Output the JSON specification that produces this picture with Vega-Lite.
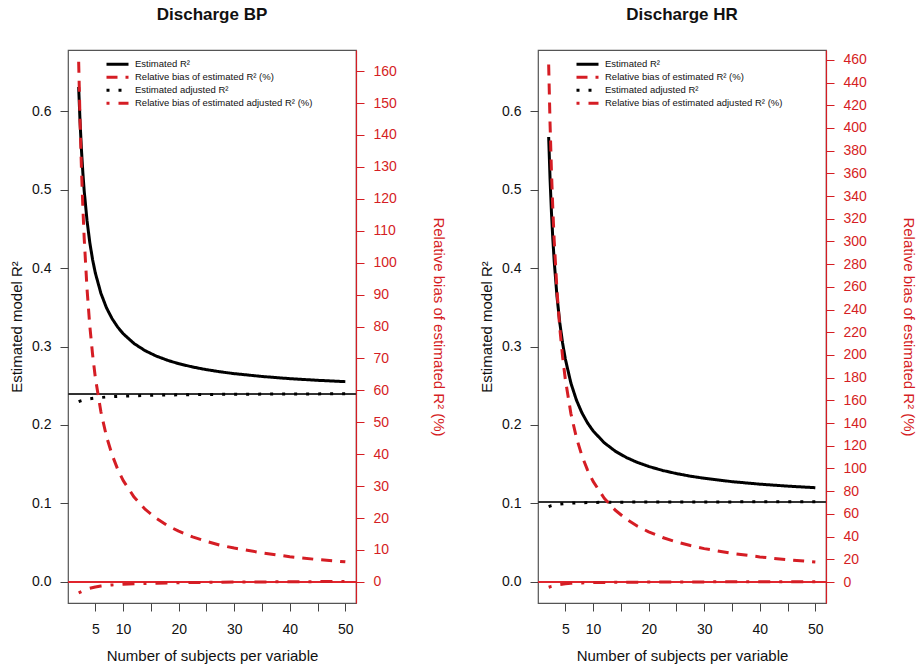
{
  "$schema": "https://vega.github.io/schema/vega-lite/v6.json",
  "background": "white",
  "padding": {"left": 8, "top": 5, "right": 2, "bottom": 2},
  "spacing": 32,
  "config": {
    "font": "Liberation Sans",
    "view": {"stroke": "#555", "strokeWidth": 1.2},
    "axis": {"grid": false, "labelFont": "Liberation Sans", "titleFont": "Liberation Sans", "labelFontSize": 14, "titleFontSize": 15, "titleFontWeight": "normal", "tickSize": 8, "tickCount": 100, "labelColor": "#111", "titleColor": "#111", "tickColor": "#444", "labelOverlap": false, "labelFlush": false},
    "legend": {"labelFont": "Liberation Sans"}
  },
  "datasets": {
    "bp": [
      {"m":2,"s":"r2","v":0.6309},{"m":2.25,"s":"r2","v":0.5863},{"m":2.5,"s":"r2","v":0.5509},{"m":2.75,"s":"r2","v":0.5221},{"m":3,"s":"r2","v":0.4981},{"m":3.5,"s":"r2","v":0.4607},{"m":4,"s":"r2","v":0.4327},{"m":4.5,"s":"r2","v":0.4110},{"m":5,"s":"r2","v":0.3937},{"m":6,"s":"r2","v":0.3679},{"m":7,"s":"r2","v":0.3494},{"m":8,"s":"r2","v":0.3357},{"m":9,"s":"r2","v":0.3250},{"m":10,"s":"r2","v":0.3164},{"m":12,"s":"r2","v":0.3036},{"m":14,"s":"r2","v":0.2945},{"m":16,"s":"r2","v":0.2877},{"m":18,"s":"r2","v":0.2824},{"m":20,"s":"r2","v":0.2781},{"m":22.5,"s":"r2","v":0.2739},{"m":25,"s":"r2","v":0.2705},{"m":27.5,"s":"r2","v":0.2677},{"m":30,"s":"r2","v":0.2654},{"m":35,"s":"r2","v":0.2618},{"m":40,"s":"r2","v":0.2590},{"m":45,"s":"r2","v":0.2569},{"m":50,"s":"r2","v":0.2552},
      {"m":2,"s":"bias","v":162.9},{"m":2.25,"s":"bias","v":144.3},{"m":2.5,"s":"bias","v":129.5},{"m":2.75,"s":"bias","v":117.5},{"m":3,"s":"bias","v":107.5},{"m":3.5,"s":"bias","v":91.9},{"m":4,"s":"bias","v":80.3},{"m":4.5,"s":"bias","v":71.3},{"m":5,"s":"bias","v":64.0},{"m":6,"s":"bias","v":53.3},{"m":7,"s":"bias","v":45.6},{"m":8,"s":"bias","v":39.9},{"m":9,"s":"bias","v":35.4},{"m":10,"s":"bias","v":31.8},{"m":12,"s":"bias","v":26.5},{"m":14,"s":"bias","v":22.7},{"m":16,"s":"bias","v":19.9},{"m":18,"s":"bias","v":17.6},{"m":20,"s":"bias","v":15.9},{"m":22.5,"s":"bias","v":14.1},{"m":25,"s":"bias","v":12.7},{"m":27.5,"s":"bias","v":11.5},{"m":30,"s":"bias","v":10.6},{"m":35,"s":"bias","v":9.1},{"m":40,"s":"bias","v":7.9},{"m":45,"s":"bias","v":7.0},{"m":50,"s":"bias","v":6.3},
      {"m":2,"s":"adj","v":0.2297},{"m":2.5,"s":"adj","v":0.2310},{"m":3,"s":"adj","v":0.2320},{"m":3.5,"s":"adj","v":0.2327},{"m":4,"s":"adj","v":0.2333},{"m":5,"s":"adj","v":0.2343},{"m":6,"s":"adj","v":0.2350},{"m":7,"s":"adj","v":0.2356},{"m":8,"s":"adj","v":0.2360},{"m":10,"s":"adj","v":0.2367},{"m":12,"s":"adj","v":0.2372},{"m":14,"s":"adj","v":0.2376},{"m":16,"s":"adj","v":0.2379},{"m":20,"s":"adj","v":0.2384},{"m":25,"s":"adj","v":0.2388},{"m":30,"s":"adj","v":0.2391},{"m":35,"s":"adj","v":0.2393},{"m":40,"s":"adj","v":0.2395},{"m":45,"s":"adj","v":0.2396},{"m":50,"s":"adj","v":0.2397},
      {"m":2,"s":"biasadj","v":-3.4},{"m":2.5,"s":"biasadj","v":-3.0},{"m":3,"s":"biasadj","v":-2.6},{"m":3.5,"s":"biasadj","v":-2.3},{"m":4,"s":"biasadj","v":-2.0},{"m":5,"s":"biasadj","v":-1.6},{"m":6,"s":"biasadj","v":-1.3},{"m":7,"s":"biasadj","v":-1.1},{"m":8,"s":"biasadj","v":-0.95},{"m":10,"s":"biasadj","v":-0.75},{"m":12,"s":"biasadj","v":-0.6},{"m":14,"s":"biasadj","v":-0.5},{"m":16,"s":"biasadj","v":-0.4},{"m":20,"s":"biasadj","v":-0.25},{"m":25,"s":"biasadj","v":-0.15},{"m":30,"s":"biasadj","v":-0.05},{"m":35,"s":"biasadj","v":0.0},{"m":40,"s":"biasadj","v":0.05},{"m":45,"s":"biasadj","v":0.1},{"m":50,"s":"biasadj","v":0.15}
    ],
    "hr": [
      {"m":2,"s":"r2","v":0.5670},{"m":2.25,"s":"r2","v":0.5137},{"m":2.5,"s":"r2","v":0.4714},{"m":2.75,"s":"r2","v":0.4369},{"m":3,"s":"r2","v":0.4084},{"m":3.5,"s":"r2","v":0.3637},{"m":4,"s":"r2","v":0.3304},{"m":4.5,"s":"r2","v":0.3047},{"m":5,"s":"r2","v":0.2841},{"m":6,"s":"r2","v":0.2534},{"m":7,"s":"r2","v":0.2316},{"m":8,"s":"r2","v":0.2152},{"m":9,"s":"r2","v":0.2025},{"m":10,"s":"r2","v":0.1924},{"m":12,"s":"r2","v":0.1773},{"m":14,"s":"r2","v":0.1665},{"m":16,"s":"r2","v":0.1584},{"m":18,"s":"r2","v":0.1521},{"m":20,"s":"r2","v":0.1471},{"m":22.5,"s":"r2","v":0.1420},{"m":25,"s":"r2","v":0.1380},{"m":27.5,"s":"r2","v":0.1347},{"m":30,"s":"r2","v":0.1320},{"m":35,"s":"r2","v":0.1277},{"m":40,"s":"r2","v":0.1245},{"m":45,"s":"r2","v":0.1220},{"m":50,"s":"r2","v":0.1200},
      {"m":2,"s":"bias","v":455.9},{"m":2.25,"s":"bias","v":403.7},{"m":2.5,"s":"bias","v":362.1},{"m":2.75,"s":"bias","v":328.4},{"m":3,"s":"bias","v":300.4},{"m":3.5,"s":"bias","v":256.6},{"m":4,"s":"bias","v":223.9},{"m":4.5,"s":"bias","v":198.7},{"m":5,"s":"bias","v":178.5},{"m":6,"s":"bias","v":148.4},{"m":7,"s":"bias","v":127.0},{"m":8,"s":"bias","v":111.0},{"m":9,"s":"bias","v":98.6},{"m":10,"s":"bias","v":88.6},{"m":12,"s":"bias","v":73.8},{"m":14,"s":"bias","v":63.2},{"m":16,"s":"bias","v":55.3},{"m":18,"s":"bias","v":49.1},{"m":20,"s":"bias","v":44.2},{"m":22.5,"s":"bias","v":39.2},{"m":25,"s":"bias","v":35.3},{"m":27.5,"s":"bias","v":32.1},{"m":30,"s":"bias","v":29.4},{"m":35,"s":"bias","v":25.2},{"m":40,"s":"bias","v":22.1},{"m":45,"s":"bias","v":19.6},{"m":50,"s":"bias","v":17.6},
      {"m":2,"s":"adj","v":0.0959},{"m":2.5,"s":"adj","v":0.0972},{"m":3,"s":"adj","v":0.0980},{"m":3.5,"s":"adj","v":0.0986},{"m":4,"s":"adj","v":0.0990},{"m":5,"s":"adj","v":0.0998},{"m":6,"s":"adj","v":0.1003},{"m":7,"s":"adj","v":0.1006},{"m":8,"s":"adj","v":0.1009},{"m":10,"s":"adj","v":0.1012},{"m":12,"s":"adj","v":0.1014},{"m":14,"s":"adj","v":0.1015},{"m":16,"s":"adj","v":0.1016},{"m":20,"s":"adj","v":0.1017},{"m":25,"s":"adj","v":0.1018},{"m":30,"s":"adj","v":0.1019},{"m":35,"s":"adj","v":0.1019},{"m":40,"s":"adj","v":0.1020},{"m":45,"s":"adj","v":0.1020},{"m":50,"s":"adj","v":0.1020},
      {"m":2,"s":"biasadj","v":-4.6},{"m":2.5,"s":"biasadj","v":-3.8},{"m":3,"s":"biasadj","v":-3.2},{"m":3.5,"s":"biasadj","v":-2.7},{"m":4,"s":"biasadj","v":-2.2},{"m":5,"s":"biasadj","v":-1.6},{"m":6,"s":"biasadj","v":-1.2},{"m":7,"s":"biasadj","v":-1.0},{"m":8,"s":"biasadj","v":-0.8},{"m":10,"s":"biasadj","v":-0.55},{"m":12,"s":"biasadj","v":-0.4},{"m":14,"s":"biasadj","v":-0.3},{"m":16,"s":"biasadj","v":-0.2},{"m":20,"s":"biasadj","v":-0.1},{"m":25,"s":"biasadj","v":0.0},{"m":30,"s":"biasadj","v":0.1},{"m":35,"s":"biasadj","v":0.15},{"m":40,"s":"biasadj","v":0.2},{"m":45,"s":"biasadj","v":0.25},{"m":50,"s":"biasadj","v":0.3}
    ]
  },
  "hconcat": [
    {
      "title": {"text": "Discharge BP", "fontSize": 17, "fontWeight": "bold", "offset": 26, "anchor": "middle", "color": "#111"},
      "width": 288, "height": 553,
      "data": {"name": "bp"},
      "layer": [
        {"layer": [
          {"mark": {"type": "rule", "color": "#333", "strokeWidth": 1.2}, "encoding": {"y": {"datum": 0.24, "type": "quantitative", "scale": {"domain": [-0.027, 0.678], "nice": false, "zero": false}}}},
          {"transform": [{"filter": {"field": "s", "oneOf": ["r2", "adj"]}}],
           "mark": {"type": "line", "strokeWidth": 3, "strokeCap": "butt", "strokeJoin": "round"},
           "encoding": {
             "x": {"field": "m", "type": "quantitative", "scale": {"domain": [0.08, 51.92], "nice": false, "zero": false},
                   "axis": {"title": "Number of subjects per variable", "values": [5,10,15,20,25,30,35,40,45,50], "tickCount": 100, "format": "d", "labelExpr": "(datum.value % 10 == 5 && datum.value != 5) ? '' : datum.label", "domain": false, "labelPadding": 11, "titlePadding": 12}},
             "y": {"field": "v", "type": "quantitative", "scale": {"domain": [-0.027, 0.678], "nice": false, "zero": false},
                   "axis": {"title": "Estimated model R²", "values": [0,0.1,0.2,0.3,0.4,0.5,0.6], "tickCount": 100, "format": ".1f", "domain": false, "labelPadding": 9, "titlePadding": 7}},
             "color": {"field": "s", "type": "nominal", "scale": {"domain": ["r2","bias","adj","biasadj"], "range": ["#000000","#d51d24","#000000","#d51d24"]},
                       "legend": {"title": null, "orient": "none", "legendX": 37, "legendY": 8, "symbolType": "stroke", "symbolSize": 484, "symbolStrokeWidth": 3, "labelFontSize": 9.5, "labelOffset": 5, "labelLimit": 400, "clipHeight": 12.3, "rowPadding": 0, "padding": 0, "labelColor": "#111", "labelExpr": "{'r2':'Estimated R²','bias':'Relative bias of estimated R² (%)','adj':'Estimated adjusted R²','biasadj':'Relative bias of estimated adjusted R² (%)'}[datum.label]"}},
             "strokeDash": {"field": "s", "type": "nominal", "scale": {"domain": ["r2","bias","adj","biasadj"], "range": [[1,0],[11,8],[3,9],[3,9,12,9]]},
                       "legend": {"title": null, "orient": "none", "legendX": 37, "legendY": 8, "symbolType": "stroke", "symbolSize": 484, "symbolStrokeWidth": 3, "labelFontSize": 9.5, "labelOffset": 5, "labelLimit": 400, "clipHeight": 12.3, "rowPadding": 0, "padding": 0, "labelColor": "#111", "labelExpr": "{'r2':'Estimated R²','bias':'Relative bias of estimated R² (%)','adj':'Estimated adjusted R²','biasadj':'Relative bias of estimated adjusted R² (%)'}[datum.label]"}}
           }}
        ]},
        {"layer": [
          {"mark": {"type": "rule", "color": "#e0262e", "strokeWidth": 1}, "encoding": {"y": {"datum": 0, "type": "quantitative", "scale": {"domain": [-6.6, 166.6], "nice": false, "zero": false}}}},
          {"transform": [{"filter": {"field": "s", "oneOf": ["bias", "biasadj"]}}],
           "mark": {"type": "line", "strokeWidth": 3, "strokeCap": "butt", "strokeJoin": "round"},
           "encoding": {
             "x": {"field": "m", "type": "quantitative", "scale": {"domain": [0.08, 51.92], "nice": false, "zero": false},
                   "axis": {"title": "Number of subjects per variable", "values": [5,10,15,20,25,30,35,40,45,50], "tickCount": 100, "format": "d", "labelExpr": "(datum.value % 10 == 5 && datum.value != 5) ? '' : datum.label", "domain": false, "labelPadding": 11, "titlePadding": 12}},
             "y": {"field": "v", "type": "quantitative", "scale": {"domain": [-6.6, 166.6], "nice": false, "zero": false},
                   "axis": {"orient": "right", "title": "Relative bias of estimated R² (%)", "values": [0,10,20,30,40,50,60,70,80,90,100,110,120,130,140,150,160], "tickCount": 100, "format": "d", "domain": true, "domainColor": "#d51d24", "domainWidth": 1.2, "tickColor": "#d51d24", "labelColor": "#d51d24", "titleColor": "#d51d24", "labelPadding": 9, "titlePadding": 34}},
             "color": {"field": "s", "type": "nominal", "scale": {"domain": ["r2","bias","adj","biasadj"], "range": ["#000000","#d51d24","#000000","#d51d24"]}},
             "strokeDash": {"field": "s", "type": "nominal", "scale": {"domain": ["r2","bias","adj","biasadj"], "range": [[1,0],[11,8],[3,9],[3,9,12,9]]}}
           }}
        ]}
      ],
      "resolve": {"scale": {"y": "independent"}}
    },
    {
      "title": {"text": "Discharge HR", "fontSize": 17, "fontWeight": "bold", "offset": 26, "anchor": "middle", "color": "#111"},
      "width": 288, "height": 553,
      "data": {"name": "hr"},
      "layer": [
        {"layer": [
          {"mark": {"type": "rule", "color": "#333", "strokeWidth": 1.2}, "encoding": {"y": {"datum": 0.102, "type": "quantitative", "scale": {"domain": [-0.027, 0.678], "nice": false, "zero": false}}}},
          {"transform": [{"filter": {"field": "s", "oneOf": ["r2", "adj"]}}],
           "mark": {"type": "line", "strokeWidth": 3, "strokeCap": "butt", "strokeJoin": "round"},
           "encoding": {
             "x": {"field": "m", "type": "quantitative", "scale": {"domain": [0.08, 51.92], "nice": false, "zero": false},
                   "axis": {"title": "Number of subjects per variable", "values": [5,10,15,20,25,30,35,40,45,50], "tickCount": 100, "format": "d", "labelExpr": "(datum.value % 10 == 5 && datum.value != 5) ? '' : datum.label", "domain": false, "labelPadding": 11, "titlePadding": 12}},
             "y": {"field": "v", "type": "quantitative", "scale": {"domain": [-0.027, 0.678], "nice": false, "zero": false},
                   "axis": {"title": "Estimated model R²", "values": [0,0.1,0.2,0.3,0.4,0.5,0.6], "tickCount": 100, "format": ".1f", "domain": false, "labelPadding": 9, "titlePadding": 7}},
             "color": {"field": "s", "type": "nominal", "scale": {"domain": ["r2","bias","adj","biasadj"], "range": ["#000000","#d51d24","#000000","#d51d24"]},
                       "legend": {"title": null, "orient": "none", "legendX": 37, "legendY": 8, "symbolType": "stroke", "symbolSize": 484, "symbolStrokeWidth": 3, "labelFontSize": 9.5, "labelOffset": 5, "labelLimit": 400, "clipHeight": 12.3, "rowPadding": 0, "padding": 0, "labelColor": "#111", "labelExpr": "{'r2':'Estimated R²','bias':'Relative bias of estimated R² (%)','adj':'Estimated adjusted R²','biasadj':'Relative bias of estimated adjusted R² (%)'}[datum.label]"}},
             "strokeDash": {"field": "s", "type": "nominal", "scale": {"domain": ["r2","bias","adj","biasadj"], "range": [[1,0],[11,8],[3,9],[3,9,12,9]]},
                       "legend": {"title": null, "orient": "none", "legendX": 37, "legendY": 8, "symbolType": "stroke", "symbolSize": 484, "symbolStrokeWidth": 3, "labelFontSize": 9.5, "labelOffset": 5, "labelLimit": 400, "clipHeight": 12.3, "rowPadding": 0, "padding": 0, "labelColor": "#111", "labelExpr": "{'r2':'Estimated R²','bias':'Relative bias of estimated R² (%)','adj':'Estimated adjusted R²','biasadj':'Relative bias of estimated adjusted R² (%)'}[datum.label]"}}
           }}
        ]},
        {"layer": [
          {"mark": {"type": "rule", "color": "#e0262e", "strokeWidth": 1}, "encoding": {"y": {"datum": 0, "type": "quantitative", "scale": {"domain": [-18.5, 468.7], "nice": false, "zero": false}}}},
          {"transform": [{"filter": {"field": "s", "oneOf": ["bias", "biasadj"]}}],
           "mark": {"type": "line", "strokeWidth": 3, "strokeCap": "butt", "strokeJoin": "round"},
           "encoding": {
             "x": {"field": "m", "type": "quantitative", "scale": {"domain": [0.08, 51.92], "nice": false, "zero": false},
                   "axis": {"title": "Number of subjects per variable", "values": [5,10,15,20,25,30,35,40,45,50], "tickCount": 100, "format": "d", "labelExpr": "(datum.value % 10 == 5 && datum.value != 5) ? '' : datum.label", "domain": false, "labelPadding": 11, "titlePadding": 12}},
             "y": {"field": "v", "type": "quantitative", "scale": {"domain": [-18.5, 468.7], "nice": false, "zero": false},
                   "axis": {"orient": "right", "title": "Relative bias of estimated R² (%)", "values": [0,20,40,60,80,100,120,140,160,180,200,220,240,260,280,300,320,340,360,380,400,420,440,460], "tickCount": 100, "format": "d", "domain": true, "domainColor": "#d51d24", "domainWidth": 1.2, "tickColor": "#d51d24", "labelColor": "#d51d24", "titleColor": "#d51d24", "labelPadding": 9, "titlePadding": 34}},
             "color": {"field": "s", "type": "nominal", "scale": {"domain": ["r2","bias","adj","biasadj"], "range": ["#000000","#d51d24","#000000","#d51d24"]}},
             "strokeDash": {"field": "s", "type": "nominal", "scale": {"domain": ["r2","bias","adj","biasadj"], "range": [[1,0],[11,8],[3,9],[3,9,12,9]]}}
           }}
        ]}
      ],
      "resolve": {"scale": {"y": "independent"}}
    }
  ],
  "resolve": {"scale": {"color": "independent", "strokeDash": "independent"}, "legend": {"color": "independent", "strokeDash": "independent"}}
}
